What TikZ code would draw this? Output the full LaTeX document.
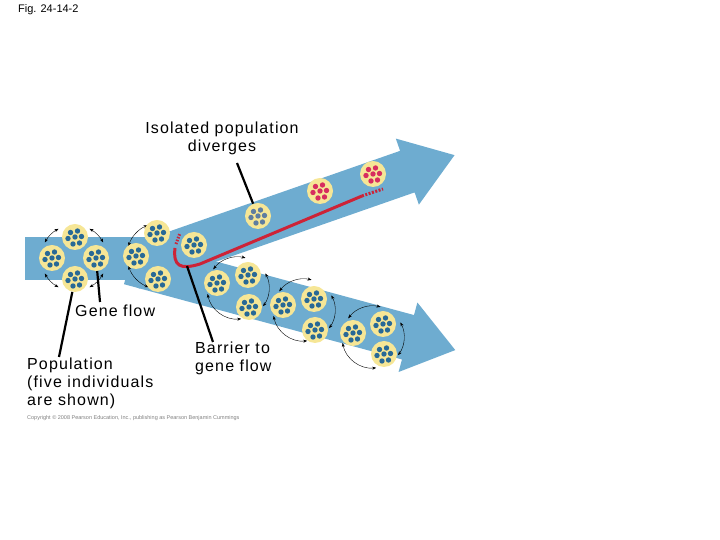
\documentclass[tikz,border=0pt]{standalone}
\usepackage{fontspec}
\setmainfont{Liberation Sans}
\usetikzlibrary{arrows.meta}
\definecolor{band}{RGB}{110,172,208}
\definecolor{pyel}{RGB}{246,230,150}
\definecolor{dotb}{RGB}{40,105,150}
\definecolor{dotg}{RGB}{95,125,160}
\definecolor{dotp}{RGB}{215,45,95}
\definecolor{barr}{RGB}{205,35,55}
\tikzset{
  lab/.style={font=\fontsize{16}{18}\selectfont\addfontfeature{LetterSpace=7}, align=left, inner sep=0},
  ptr/.style={line width=2.2pt, black},
  flow/.style={{Stealth[length=4pt]}-{Stealth[length=4pt]}, thin, black},
}
\newcommand{\popdots}[1]{%
  \fill[#1] (-4.5,4.5) circle (2.7) (2.5,6) circle (2.7) (-7,-1.5) circle (2.7) (0,0) circle (2.7) (6.5,0.5) circle (2.7) (-2,-7) circle (2.7) (4.5,-6) circle (2.7);}
\newcommand{\pop}[3]{%
  \node[circle, fill=pyel, minimum size=26pt, inner sep=0] (#1) at (#2,540-#3) {};
  \begin{scope}[shift={(#2,540-#3)}]\popdots{dotb}\end{scope}}
\newcommand{\popc}[4]{%
  \node[circle, fill=pyel, minimum size=26pt, inner sep=0] (#1) at (#2,540-#3) {};
  \begin{scope}[shift={(#2,540-#3)}]\popdots{#4}\end{scope}}
% ring arc: centre x, centre y (px), radius, start angle, end angle
\newcommand{\ringarc}[5]{\draw[flow] ([shift={(#4:#3)}]{#1},{540-(#2)}) arc[start angle=#4, end angle=#5, radius=#3];}
\begin{document}
\begin{tikzpicture}[x=1pt,y=1pt]
\useasboundingbox (0,0) rectangle (720,540);
% bands
\fill[band] (25,260) rectangle (172,303);
\begin{scope}[shift={(160,282)}, rotate=19.25]
\fill[band] (-30,-22) -- (262,-22) -- (262,-35) -- (312,0) -- (262,35) -- (262,22) -- (-30,22) -- cycle;
\end{scope}
\begin{scope}[shift={(130,278)}, rotate=-15.15]
\fill[band] (0,-23) -- (288,-23) -- (288,-36) -- (337,0) -- (288,36) -- (288,23) -- (0,23) -- cycle;
\end{scope}
% barrier
\draw[barr, line width=3pt] (175,292) .. controls (173,274) and (180,270) .. (200,276) -- (362,344);
\draw[barr, line width=3pt, dash pattern=on 2pt off 1.5pt] (362,344) -- (383,351);
\draw[barr, line width=3pt, dash pattern=on 1.5pt off 1.5pt] (176,296) -- (180,307);
% gene flow arrows
\foreach \a/\b in {118/152,208/242,298/332,28/62}{\ringarc{74}{258}{33}{\a}{\b}}
\foreach \a/\b in {112/163,197/250}{\ringarc{160}{256}{33}{\a}{\b}}
\foreach \dx/\dy in {0/0,66/22,135/49}{
  \foreach \a/\b in {76/143,191/276,324/388}{\ringarc{238+\dx}{288+\dy}{31}{\a}{\b}}}
% populations
\pop{a1}{75}{237}\pop{a2}{52}{258}\pop{a3}{96}{258}\pop{a4}{75}{279}
\pop{b1}{157}{233}\pop{b2}{136}{256}\pop{b3}{158}{279}
\pop{c1}{194}{245}
\popc{u1}{258}{216}{dotg}\popc{u2}{320}{191}{dotp}\popc{u3}{373}{174}{dotp}
\pop{d1}{217}{283}\pop{d2}{248}{275}\pop{d3}{249}{307}
\pop{e1}{283}{305}\pop{e2}{314}{299}\pop{e3}{315}{330}
\pop{f1}{353}{333}\pop{f2}{383}{324}\pop{f3}{384}{354}
% labels
\node[font=\fontsize{11}{13}\selectfont, anchor=west, inner sep=0] (fig) at (18,530) {Fig. 24-14-2};
\node[lab, align=center] (iso) at (222,402) {Isolated population\\diverges};
\draw[ptr] (237,377) -- (u1);
\node[lab, anchor=west] (gf) at (75,229) {Gene flow};
\draw[ptr] (100,238) -- (a3);
\node[lab, anchor=north west] (popl) at (27,182) {Population\\(five individuals\\are shown)};
\draw[ptr] (59,183) -- (a4);
\node[lab, anchor=north west] (bar) at (195,198) {Barrier to\\gene flow};
\draw[ptr] (213,198) -- (187,274);
\node[font=\fontsize{5.5}{6}\selectfont, anchor=west, inner sep=0, gray] (copy) at (27,122) {Copyright © 2008 Pearson Education, Inc., publishing as Pearson Benjamin Cummings};
\end{tikzpicture}
\end{document}
